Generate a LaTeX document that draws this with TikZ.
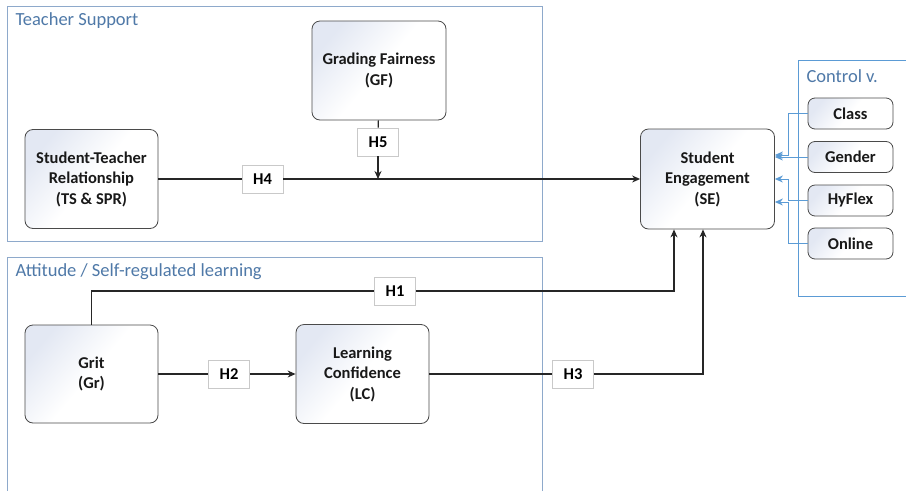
\documentclass[tikz,border=0pt]{standalone}
\usepackage{fontspec}
\setmainfont{Carlito}
\usetikzlibrary{arrows.meta}
\definecolor{grpline}{HTML}{8EA9CB}
\definecolor{grptext}{HTML}{4F79A8}
\definecolor{ctlblue}{HTML}{5B9BD5}
\definecolor{boxline}{HTML}{4A4A4A}
\definecolor{boxtint}{HTML}{E3E8F3}
\definecolor{hline}{HTML}{C9C9C9}
\tikzset{
  construct/.style={draw=boxline, line width=0.8pt, rounded corners=8pt,
    left color=boxtint, right color=white, middle color=white, shading angle=50,
    align=center, font=\fontsize{16.5}{20.5}\selectfont\bfseries, text=black!90,
    minimum width=#1, inner sep=2pt},
  construct/.default=133pt,
  ctrlbox/.style={construct=85pt, minimum height=31pt, rounded corners=7pt},
  hyp/.style={draw=hline, fill=white, line width=0.6pt, minimum width=41pt,
    minimum height=28pt, inner sep=1pt, font=\fontsize{16.5}{18}\selectfont\bfseries},
  grplabel/.style={anchor=west, text=grptext, font=\fontsize{18.5}{20}\selectfont},
  link/.style={draw=black!85, line width=1.1pt},
  ctl/.style={draw=ctlblue, line width=0.9pt, -{Stealth[length=8pt,width=7pt]}}
}
\begin{document}
\begin{tikzpicture}[x=1pt,y=-1pt,>={Stealth[length=8pt,width=7pt]}]
\useasboundingbox (0,0) rectangle (906,491);
\fill[white] (0,0) rectangle (906,491);
\draw[grpline, line width=0.9pt] (7,6) rectangle (542,241);
\draw[grpline, line width=0.9pt] (542,491) -- (542,257) -- (7,257) -- (7,491);
\draw[ctlblue, line width=0.9pt] (906,60) -- (798,60) -- (798,296) -- (906,296);
\node[grplabel] at (12,21) {Teacher Support};
\node[grplabel] at (12,272) {Attitude / Self-regulated learning};
\node[grplabel] at (803,76) {Control v.};

\node[construct, minimum height=99pt] (str) at (91.5,179) {Student-Teacher\\Relationship\\(TS \& SPR)};
\node[construct=134pt, minimum height=99pt] (gf) at (379,70.5) {Grading Fairness\\(GF)};
\node[construct=134pt, minimum height=100pt] (se) at (707.5,179) {Student\\Engagement\\(SE)};
\node[construct, minimum height=98pt] (grit) at (91.5,374) {Grit\\(Gr)};
\node[construct, minimum height=99pt] (lc) at (362.5,374) {Learning\\Confidence\\(LC)};

\node[ctrlbox] (class) at (850.5,113.5) {Class};
\node[ctrlbox] (gender) at (850.5,157) {Gender};
\node[ctrlbox] (hyflex) at (850.5,200.5) {HyFlex};
\node[ctrlbox] (online) at (850.5,243.5) {Online};

\node[hyp] (h4) at (262.5,179) {H4};
\node[hyp] (h5) at (378,142) {H5};
\node[hyp] (h1) at (395,291) {H1};
\node[hyp] (h2) at (229,374) {H2};
\node[hyp] (h3) at (573,374) {H3};

\coordinate (meet) at (h5 |- se.west);
\coordinate (se1) at ([xshift=-33.5pt]se.south);
\coordinate (se2) at ([xshift=-4.5pt]se.south);

\draw[link] (str) -- (h4);
\draw[link,->] (h4) -- (se);
\draw[link] (gf) -- (h5);
\draw[link,->] (h5) -- (meet);
\draw[link] (grit.north) |- (h1);
\draw[link,->] (h1) -| (se1);
\draw[link] (grit) -- (h2);
\draw[link,->] (h2) -- (lc);
\draw[link] (lc) -- (h3);
\draw[link,->] (h3) -| (se2);

\draw[ctl] (class.west) -- ++(-19,0) |- ([yshift=24pt]se.east);
\draw[ctl] (gender) -- ([yshift=22pt]se.east);
\draw[ctl] (hyflex.west) -- ++(-19,0) |- (se.east);
\draw[ctl] (online.west) -- ++(-19,0) |- ([yshift=-23pt]se.east);
\end{tikzpicture}
\end{document}
